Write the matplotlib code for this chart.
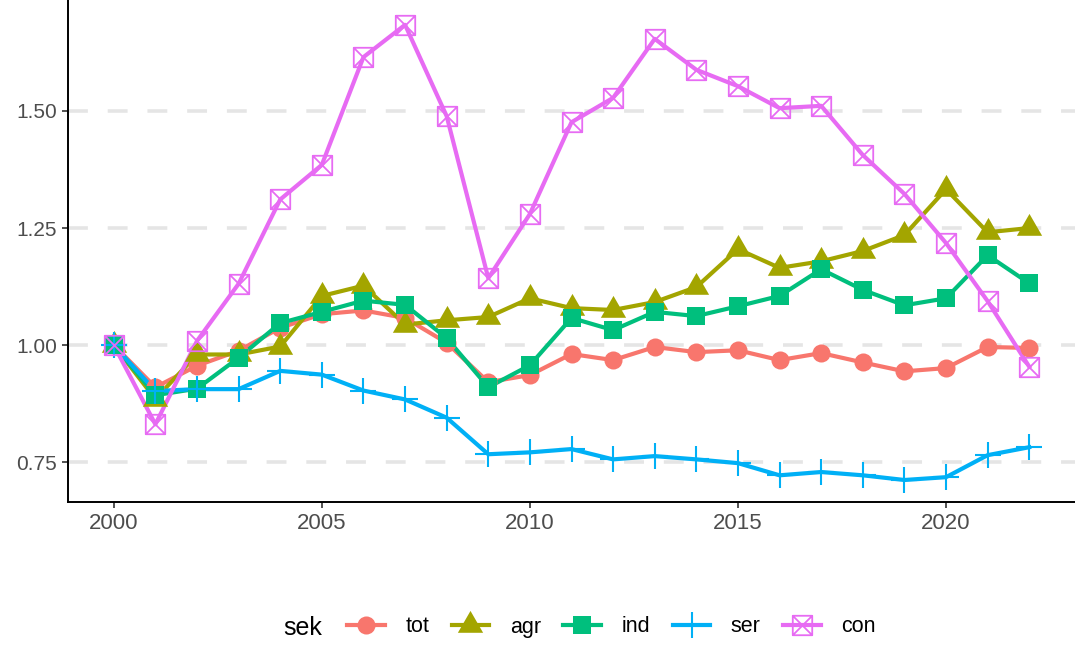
import matplotlib
matplotlib.use("Agg")
import matplotlib.pyplot as plt
from matplotlib.lines import Line2D
from matplotlib.path import Path

plt.rcParams['font.family'] = ['Liberation Sans', 'DejaVu Sans']

years = list(range(2000, 2023))

# index values, 2000 = 1
tot = [1.000, 0.910, 0.956, 0.988, 1.037, 1.066, 1.074, 1.058, 1.005, 0.921, 0.936,
       0.981, 0.968, 0.996, 0.985, 0.989, 0.968, 0.983, 0.963, 0.944, 0.951, 0.996, 0.994]
agr = [1.000, 0.885, 0.980, 0.980, 0.997, 1.105, 1.127, 1.044, 1.053, 1.060, 1.100,
       1.079, 1.075, 1.092, 1.124, 1.205, 1.165, 1.179, 1.201, 1.235, 1.333, 1.241, 1.250]
ind = [1.000, 0.893, 0.907, 0.973, 1.047, 1.071, 1.095, 1.086, 1.015, 0.910, 0.957,
       1.058, 1.032, 1.071, 1.062, 1.083, 1.105, 1.162, 1.118, 1.085, 1.100, 1.192, 1.132]
ser = [1.000, 0.902, 0.906, 0.906, 0.945, 0.937, 0.903, 0.884, 0.845, 0.767, 0.771,
       0.778, 0.756, 0.763, 0.756, 0.748, 0.722, 0.729, 0.722, 0.712, 0.718, 0.765, 0.782]
con = [1.000, 0.831, 1.009, 1.131, 1.311, 1.385, 1.615, 1.684, 1.489, 1.143, 1.280,
       1.476, 1.528, 1.654, 1.588, 1.553, 1.506, 1.511, 1.406, 1.323, 1.218, 1.094, 0.954]

names = ["tot", "agr", "ind", "ser", "con"]
series = [tot, agr, ind, ser, con]
colors = ["#F8766D", "#A3A500", "#00BF7D", "#00B0F6", "#E76BF3"]

# ggplot-like shapes
tri = Path([(0, 1), (-0.866, -0.5), (0.866, -0.5), (0, 1)],
           [Path.MOVETO, Path.LINETO, Path.LINETO, Path.CLOSEPOLY])
box_x = Path([(-1, -1), (1, -1), (1, 1), (-1, 1), (-1, -1),
              (-1, -1), (1, 1), (-1, 1), (1, -1)],
             [Path.MOVETO, Path.LINETO, Path.LINETO, Path.LINETO, Path.CLOSEPOLY,
              Path.MOVETO, Path.LINETO, Path.MOVETO, Path.LINETO])

styles = [
    dict(marker="o", markersize=13, markeredgewidth=0),
    dict(marker=tri, markersize=21, markeredgewidth=0),
    dict(marker="s", markersize=12.5, markeredgewidth=0),
    dict(marker="+", markersize=19, markeredgewidth=1.5),
    dict(marker=box_x, markersize=14, markeredgewidth=1.3, markerfacecolor="none"),
]

fig = plt.figure(figsize=(10.75, 6.46), dpi=100)
ax = fig.add_axes([68 / 1075, 144 / 646, 1 - 68 / 1075, 502 / 646])

for vals, c in zip(series, colors):
    ax.plot(years, vals, color=c, lw=3, zorder=2, solid_joinstyle="round")
for vals, c, st in zip(series, colors, styles):
    ax.plot(years, vals, ls="none", color=c, zorder=3, **st)

ax.set_xlim(1998.9, 2023.1)
ax.set_ylim(0.665, 1.737)
ax.set_xticks([2000, 2005, 2010, 2015, 2020])
ax.set_yticks([0.75, 1.00, 1.25, 1.50])
ax.set_yticklabels(["0.75", "1.00", "1.25", "1.50"])
ax.grid(axis="y", color="#E5E5E5", lw=2.6, linestyle=(0, (5.5, 5.5)), zorder=0)
ax.set_axisbelow(True)

for s in ["top", "right"]:
    ax.spines[s].set_visible(False)
for s in ["left", "bottom"]:
    ax.spines[s].set_linewidth(1.4)
    ax.spines[s].set_color("black")
ax.tick_params(length=4, width=1.2, color="#333333", labelcolor="#4D4D4D", pad=4)
ax.tick_params(axis="x", labelsize=16)
ax.tick_params(axis="y", labelsize=15)

handles = [Line2D([0], [0], color=c, lw=3, **st) for c, st in zip(colors, styles)]
fig.text(283 / 1075, 1 - 628 / 646, "sek", fontsize=18, color="black",
         va="center", ha="left")
fig.legend(handles, names, loc="center left", ncol=5, frameon=False,
           bbox_to_anchor=(347 / 1075, 1 - 627 / 646), borderaxespad=0,
           borderpad=0, fontsize=15.5, handlelength=1.75, handletextpad=0.95,
           columnspacing=1.05)

fig.savefig("out.png", dpi=100)
